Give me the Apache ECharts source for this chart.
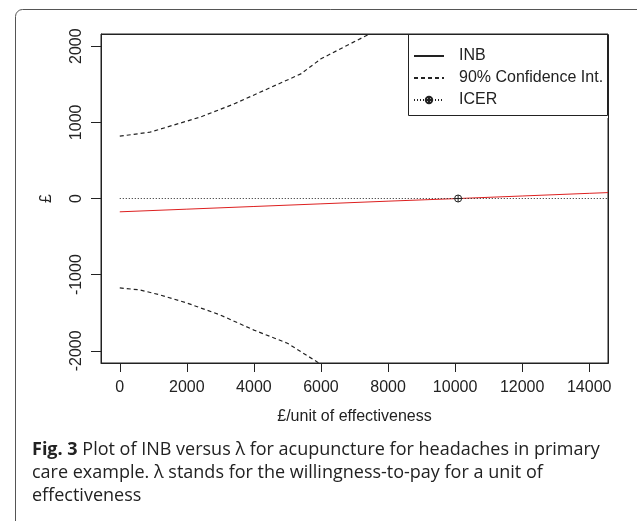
<!DOCTYPE html>
<html>
<head>
<meta charset="utf-8">
<script src="https://cdn.jsdelivr.net/npm/echarts@6/dist/echarts.min.js"></script>
<style>
  html, body { margin: 0; padding: 0; background: #fff; }
  #chart { width: 637px; height: 521px; }
</style>
</head>
<body>
<div id="chart"></div>
<script>
  // lambda (£/unit of effectiveness) and values
  var xTicks = [0, 2000, 4000, 6000, 8000, 10000, 12000, 14000]
  var yTicks = [-2000, -1000, 0, 1000, 2000]

  var inbX = [0, 2000, 4000, 6000, 8000, 10000, 12000, 14000, 15000]
  var inbY = [-175, -140, -105, -70, -35, -2, 33, 68, 85]

  var upperX = [0, 900, 1400, 2400, 3400, 4400, 5400, 6000, 7400]
  var upperY = [818, 871, 937, 1069, 1240, 1438, 1636, 1834, 2150]

  var lowerX = [0, 600, 1200, 2000, 3000, 4000, 5000, 5900, 6100]
  var lowerY = [-1174, -1200, -1266, -1372, -1530, -1728, -1900, -2150, -2200]

  var icerX = 10090
  var zeroX = [0, 15000]

  function pairs (xs, ys) {
    return xs.map(function (x, i) { return [x, ys[i]] })
  }

  var crossCircle = 'path://M0,-10A10,10 0 1,1 0,10A10,10 0 1,1 0,-10ZM-10,0L10,0M0,-10L0,10'
  var ink = '#222'
  var font = 'Liberation Sans'

  var chart = echarts.init(document.getElementById('chart'))
  chart.setOption({
    animation: false,
    grid: {
      left: 101,
      right: 29,
      top: 34,
      bottom: 158,
      show: true,
      borderColor: ink,
      borderWidth: 1,
      backgroundColor: 'transparent'
    },
    xAxis: {
      type: 'value',
      min: -560,
      max: 14560,
      name: '£/unit of effectiveness',
      nameLocation: 'middle',
      nameGap: 46,
      nameTextStyle: { fontFamily: font, fontSize: 16, color: ink },
      axisLine: { show: true, onZero: false, lineStyle: { color: ink } },
      axisTick: { show: true, length: 9, customValues: xTicks, lineStyle: { color: ink } },
      axisLabel: {
        customValues: xTicks,
        margin: 17,
        fontFamily: font,
        fontSize: 16,
        color: ink,
        formatter: function (v) { return String(v) }
      },
      splitLine: { show: false }
    },
    yAxis: {
      type: 'value',
      min: -2160,
      max: 2160,
      name: '£',
      nameLocation: 'middle',
      nameRotate: 90,
      nameGap: 46,
      nameTextStyle: { fontFamily: font, fontSize: 16, color: ink },
      axisLine: { show: true, onZero: false, lineStyle: { color: ink } },
      axisTick: { show: true, length: 10, customValues: yTicks, lineStyle: { color: ink } },
      axisLabel: {
        customValues: yTicks,
        rotate: 90,
        margin: 16,
        fontFamily: font,
        fontSize: 16,
        color: ink,
        formatter: function (v) { return String(v) }
      },
      splitLine: { show: false }
    },
    legend: {
      orient: 'vertical',
      left: 408,
      top: 34,
      padding: [14, 10, 10, 5],
      itemWidth: 30,
      itemHeight: 8,
      itemGap: 6,
      backgroundColor: '#fff',
      textStyle: { fontFamily: font, fontSize: 16, color: ink, padding: [0, 0, 0, 10] },
      data: [
        { name: 'INB', itemStyle: { opacity: 0 }, lineStyle: { color: ink } },
        { name: '90% Confidence Int.', itemStyle: { opacity: 0 } },
        { name: 'ICER' }
      ]
    },
    graphic: [
      {
        type: 'rect',
        shape: { x: 101.5, y: 34.5, width: 507, height: 329 },
        style: { fill: 'none', stroke: ink, lineWidth: 1 },
        z: 90
      },
      {
        type: 'rect',
        shape: { x: 408.5, y: 34.5, width: 199, height: 81 },
        style: { fill: 'none', stroke: ink, lineWidth: 1 },
        z: 100
      },
      {
        type: 'rect',
        shape: { x: 15.5, y: 9.5, width: 640, height: 540, r: 7 },
        style: { fill: 'none', stroke: '#555', lineWidth: 1 },
        z: 100
      },
      {
        type: 'text',
        left: 32,
        top: 438,
        style: {
          text: '{b|Fig. 3} Plot of INB versus λ for acupuncture for headaches in primary\ncare example. λ stands for the willingness-to-pay for a unit of\neffectiveness',
          font: '18px "Open Sans"',
          fill: '#222',
          lineHeight: 23,
          rich: {
            b: { fontFamily: 'Open Sans', fontWeight: 'bold', fontSize: 18, fill: '#222', lineHeight: 23 }
          }
        }
      }
    ],
    series: [
      {
        name: 'INB',
        type: 'line',
        data: pairs(inbX, inbY),
        symbol: 'none',
        clip: true,
        lineStyle: { color: '#dd2020', width: 1 },
        itemStyle: { color: '#dd2020' },
        z: 3
      },
      {
        name: '90% Confidence Int.',
        type: 'line',
        data: pairs(upperX, upperY),
        symbol: 'none',
        clip: true,
        lineStyle: { color: ink, width: 1.2, type: [4, 3] },
        itemStyle: { color: ink }
      },
      {
        name: '90% Confidence Int.',
        type: 'line',
        data: pairs(lowerX, lowerY),
        symbol: 'none',
        clip: true,
        lineStyle: { color: ink, width: 1.2, type: [4, 3] },
        itemStyle: { color: ink }
      },
      {
        name: 'ICER',
        type: 'line',
        data: [
          { value: [zeroX[0], 0], symbol: 'none' },
          { value: [icerX, 0] },
          { value: [zeroX[1], 0], symbol: 'none' }
        ],
        symbol: crossCircle,
        symbolSize: 7,
        showSymbol: true,
        clip: true,
        lineStyle: { color: ink, width: 1, type: [1, 2] },
        itemStyle: { color: 'none', borderColor: ink, borderWidth: 1 },
        z: 4
      }
    ]
  })
</script>
</body>
</html>
